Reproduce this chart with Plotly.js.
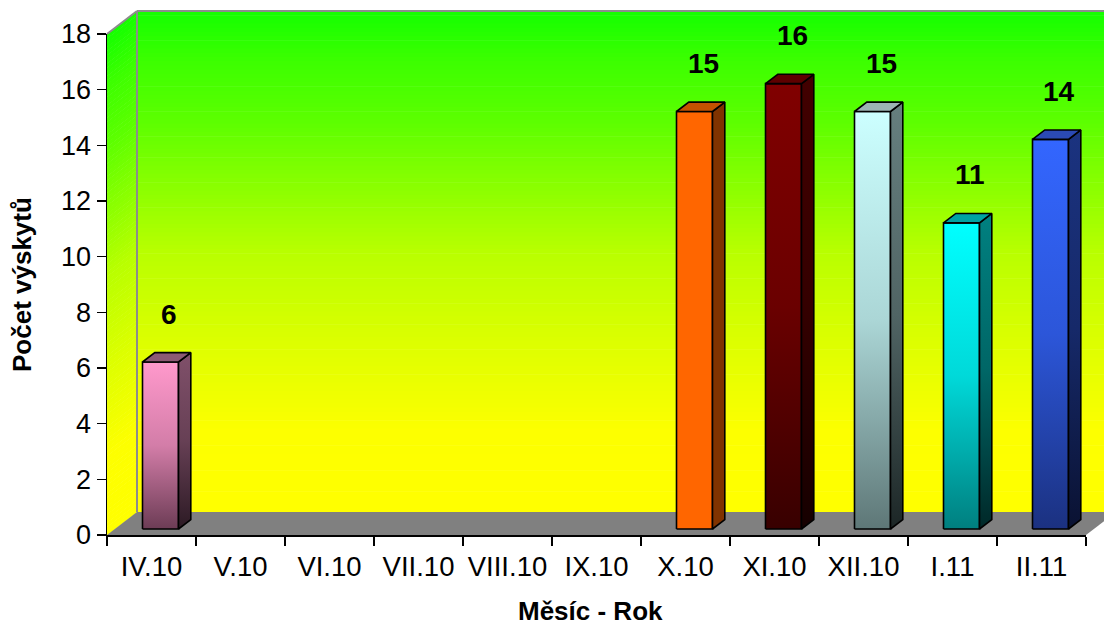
<!DOCTYPE html>
<html>
<head>
<meta charset="utf-8">
<script src="https://cdn.plot.ly/plotly-3.0.1.min.js"></script>
<style>
  html, body { margin: 0; padding: 0; background: #ffffff; }
  #chart { width: 1104px; height: 627px; }
</style>
</head>
<body>
<div id="chart"></div>
<script>
// Monthly occurrence counts
const months = ['IV.10', 'V.10', 'VI.10', 'VII.10', 'VIII.10', 'IX.10', 'X.10', 'XI.10', 'XII.10', 'I.11', 'II.11'];
const counts = [6, null, null, null, null, null, 15, 16, 15, 11, 14];
const yTickValues = [0, 2, 4, 6, 8, 10, 12, 14, 16, 18];
const xTitle = 'Měsíc - Rok';
const yTitle = 'Počet výskytů';

// Face colours of each column: front (top -> bottom), side (top -> bottom), lid
const barStyles = [
  { front: ['#ff99cc', '#6c3c55'], side: ['#80506a', '#2c1a24'], lid: '#8c5a74' },
  null, null, null, null, null,
  { front: ['#ff6600', '#ff6600'], side: ['#803300', '#803300'], lid: '#c45200' },
  { front: ['#800000', '#380000'], side: ['#420000', '#160000'], lid: '#5e0000' },
  { front: ['#ccffff', '#5e7777'], side: ['#667f7f', '#1c2626'], lid: '#9cb4b4' },
  { front: ['#00ffff', '#007f7f'], side: ['#008080', '#002828'], lid: '#00a3a3' },
  { front: ['#3366ff', '#1b3180'], side: ['#1b3380', '#0a1232'], lid: '#2b4ab4' }
];

// Wall gradient, bottom (0) to top (1)
const wallScale = [[0, '#ffff00'], [0.16, '#fdff00'], [0.32, '#e0ff00'], [0.52, '#b8ff00'],
                   [0.78, '#5cff00'], [0.9, '#3cff00'], [1, '#14ff00']];

// ---- frame geometry (pixels) ----
const W = 1104, H = 627;
const FRONT = { left: 107, right: 1086, top: 34, bottom: 535 };
const DEPTH = { dx: 30, dy: 23 };
const YMAX = 18;
const N = months.length;
const pxPerCat = (FRONT.right - FRONT.left) / N;
const pxPerUnit = (FRONT.bottom - FRONT.top) / YMAX;

// columns stand a little behind the front edge of the floor
const BAR = { shiftX: 9, shiftY: 6, width: 36, depthX: 12.3, depthY: 9.4 };
const hw = BAR.width / 2 / pxPerCat;
const ddx = BAR.depthX / pxPerCat;
const ddy = BAR.depthY / pxPerUnit;
const sx = BAR.shiftX / pxPerCat;
const sy = BAR.shiftY / pxPerUnit;

const FONT = 'Liberation Sans, Arial, sans-serif';
const px = x => x / W;
const py = y => 1 - y / H;

function hexToRgb(h) {
  const n = parseInt(h.slice(1), 16);
  return [(n >> 16) & 255, (n >> 8) & 255, n & 255];
}
function mix(a, b, t) {
  const A = hexToRgb(a), B = hexToRgb(b);
  return 'rgb(' + A.map((v, k) => Math.round(v + (B[k] - v) * t)).join(',') + ')';
}
function scaleAt(scale, t) {
  for (let k = 1; k < scale.length; k++) {
    if (t <= scale[k][0]) {
      const [t0, c0] = scale[k - 1], [t1, c1] = scale[k];
      return mix(c0, c1, (t - t0) / (t1 - t0));
    }
  }
  return scale[scale.length - 1][1];
}
function shade(top, bottom) {
  return [[0, bottom], [0.5, mix(top, bottom, 0.3)], [1, top]];
}

// ---- walls and floor ----
const shapes = [];
const BANDS = 120;
const bandH = (FRONT.bottom - FRONT.top) / BANDS;
for (let k = 0; k < BANDS; k++) {
  const color = scaleAt(wallScale, 1 - (k + 0.5) / BANDS);
  const yTopBack = FRONT.top - DEPTH.dy + k * bandH;
  // back wall band
  shapes.push({
    type: 'rect', xref: 'paper', yref: 'paper', layer: 'below',
    x0: px(FRONT.left + DEPTH.dx), x1: px(FRONT.right + DEPTH.dx),
    y0: py(yTopBack), y1: py(yTopBack + bandH + 0.6),
    fillcolor: color, line: { width: 0 }
  });
  // side wall band
  const yTopFront = FRONT.top + k * bandH;
  shapes.push({
    type: 'path', xref: 'paper', yref: 'paper', layer: 'below',
    path: 'M' + px(FRONT.left) + ',' + py(yTopFront) +
          'L' + px(FRONT.left + DEPTH.dx) + ',' + py(yTopBack) +
          'L' + px(FRONT.left + DEPTH.dx) + ',' + py(yTopBack + bandH + 0.6) +
          'L' + px(FRONT.left) + ',' + py(yTopFront + bandH + 0.6) + 'Z',
    fillcolor: color, line: { width: 0 }
  });
}
// floor
shapes.push({
  type: 'path', xref: 'paper', yref: 'paper', layer: 'below',
  path: 'M' + px(FRONT.left) + ',' + py(FRONT.bottom) +
        'L' + px(FRONT.right) + ',' + py(FRONT.bottom) +
        'L' + px(FRONT.right + DEPTH.dx) + ',' + py(FRONT.bottom - DEPTH.dy) +
        'L' + px(FRONT.left + DEPTH.dx) + ',' + py(FRONT.bottom - DEPTH.dy) + 'Z',
  fillcolor: '#808080', line: { width: 0 }
});
// wall edges
const edge = { color: '#8c8c8c', width: 2 };
shapes.push(
  { type: 'line', xref: 'paper', yref: 'paper', layer: 'below',
    x0: px(FRONT.left + DEPTH.dx), x1: px(FRONT.left + DEPTH.dx),
    y0: py(FRONT.top - DEPTH.dy), y1: py(FRONT.bottom - DEPTH.dy), line: edge },
  { type: 'line', xref: 'paper', yref: 'paper', layer: 'below',
    x0: px(FRONT.left + DEPTH.dx), x1: px(FRONT.right + DEPTH.dx),
    y0: py(FRONT.top - DEPTH.dy), y1: py(FRONT.top - DEPTH.dy), line: edge },
  { type: 'line', xref: 'paper', yref: 'paper', layer: 'below',
    x0: px(FRONT.left), x1: px(FRONT.left + DEPTH.dx),
    y0: py(FRONT.top), y1: py(FRONT.top - DEPTH.dy), line: edge }
);

// ---- traces ----
const traces = [{
  type: 'scatter', x: months, y: counts, mode: 'markers',
  marker: { opacity: 0 }, hoverinfo: 'skip', showlegend: false,
  xaxis: 'x', yaxis: 'y'
}];
const outline = { color: '#000000', width: 1.6 };
function face(xs, ys, scale, y0, y1) {
  traces.push({
    type: 'scatter', x: xs, y: ys, xaxis: 'x2', yaxis: 'y2',
    mode: 'lines', fill: 'toself', line: outline,
    fillgradient: { type: 'vertical', colorscale: scale, start: y0, stop: y1 },
    hoverinfo: 'skip', showlegend: false
  });
}
const annotations = [];
counts.forEach((v, i) => {
  if (v === null) return;
  const s = barStyles[i];
  face([i - hw, i + hw, i + hw, i - hw, i - hw], [0, 0, v, v, 0],
       shade(s.front[0], s.front[1]), 0, v);
  face([i + hw, i + hw + ddx, i + hw + ddx, i + hw, i + hw], [0, ddy, v + ddy, v, 0],
       shade(s.side[0], s.side[1]), 0, v + ddy);
  face([i - hw, i + hw, i + hw + ddx, i - hw + ddx, i - hw], [v, v, v + ddy, v + ddy, v],
       [[0, s.lid], [1, s.lid]], v, v + ddy);
  annotations.push({
    xref: 'x2', yref: 'y2', x: i + 0.1, y: v, yshift: 48,
    text: '<b>' + v + '</b>', showarrow: false, xanchor: 'center', yanchor: 'middle',
    font: { family: FONT, size: 28, color: '#000000' }
  });
});

annotations.push(
  { xref: 'paper', yref: 'paper', x: px(590), y: py(611), showarrow: false,
    xanchor: 'center', yanchor: 'middle', text: '<b>' + xTitle + '</b>',
    font: { family: FONT, size: 26, color: '#000000' } },
  { xref: 'paper', yref: 'paper', x: px(22), y: py(285), showarrow: false,
    xanchor: 'center', yanchor: 'middle', textangle: -90, text: '<b>' + yTitle + '</b>',
    font: { family: FONT, size: 26, color: '#000000' } }
);

const xDomain = [px(FRONT.left), px(FRONT.right)];
const yDomain = [py(FRONT.bottom), py(FRONT.top)];

const layout = {
  width: W, height: H,
  margin: { l: 0, r: 0, t: 0, b: 0, pad: 0 },
  paper_bgcolor: '#ffffff', plot_bgcolor: 'rgba(0,0,0,0)',
  showlegend: false,
  xaxis: {
    domain: xDomain, type: 'category', range: [-0.5, N - 0.5],
    categoryorder: 'array', categoryarray: months,
    tickson: 'boundaries', ticks: 'outside', ticklen: 9, tickwidth: 1.5, tickcolor: '#000000',
    ticklabelstandoff: 6,
    showline: true, linecolor: '#000000', linewidth: 1.5,
    showgrid: false, zeroline: false, fixedrange: true,
    tickfont: { family: FONT, size: 27.5, color: '#000000' }
  },
  yaxis: {
    domain: yDomain, range: [0, YMAX], tickmode: 'array', tickvals: yTickValues,
    ticks: 'outside', ticklen: 9, tickwidth: 1.5, tickcolor: '#000000',
    showline: true, linecolor: '#000000', linewidth: 1.5,
    showgrid: false, zeroline: false, fixedrange: true,
    tickfont: { family: FONT, size: 27, color: '#000000' }
  },
  xaxis2: {
    overlaying: 'x', anchor: 'y2', range: [-0.5 - sx, N - 0.5 - sx],
    visible: false, fixedrange: true
  },
  yaxis2: {
    overlaying: 'y', anchor: 'x2', range: [-sy, YMAX - sy],
    visible: false, fixedrange: true
  },
  shapes: shapes,
  annotations: annotations
};

Plotly.newPlot('chart', traces, layout, { displayModeBar: false, staticPlot: true });
</script>
</body>
</html>
